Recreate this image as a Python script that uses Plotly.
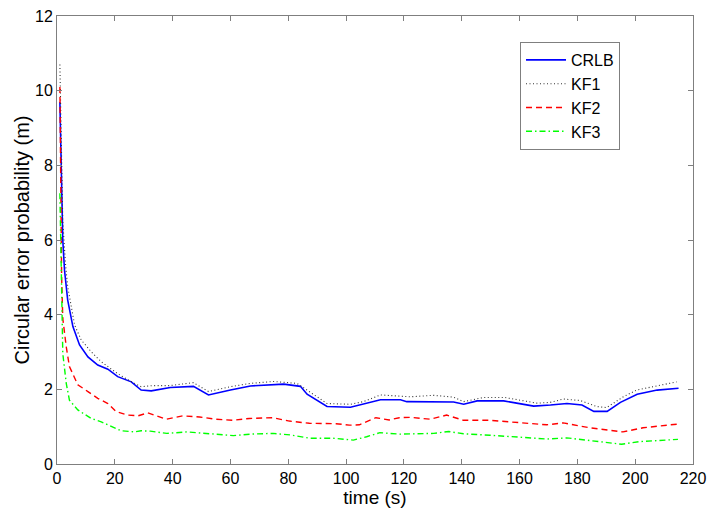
import plotly.graph_objects as go

# ---- data ----
t_crlb = [1, 1.5, 2, 2.6, 3.7, 5.5, 7.8, 10.7, 14.1, 17.6, 21, 25.7, 29.1, 32.6, 39.2, 47.2,
          52.4, 60, 66.9, 78.4, 84.2, 86.5, 93.4, 101.5, 106, 111.9, 118.8, 121, 137.2, 140.7,
          145.3, 154.5, 159, 164.9, 170.7, 176.4, 181.6, 185.7, 190.3, 194.9, 200.7, 207.6, 215]
crlb = [9.7, 7.9, 6.0, 5.19, 4.39, 3.68, 3.19, 2.87, 2.65, 2.54, 2.34, 2.20, 1.98, 1.96, 2.05, 2.08,
        1.85, 1.98, 2.09, 2.14, 2.08, 1.87, 1.54, 1.52, 1.60, 1.72, 1.72, 1.67, 1.66, 1.60,
        1.69, 1.69, 1.63, 1.55, 1.58, 1.62, 1.58, 1.41, 1.41, 1.65, 1.87, 1.98, 2.03]

t_kf1 = [1, 1.5, 2, 3, 3.7, 6.1, 8.4, 11.8, 15.3, 18.8, 22.2, 26.8, 29.1, 33.2, 39, 47.2, 52.4,
         60, 66.9, 75, 83, 86.5, 93.4, 101.5, 106, 111.9, 118.8, 122.2, 130.3, 137.2, 140.6,
         147.5, 155, 161.4, 166, 170.6, 175.2, 181, 186.7, 190.1, 195.9, 200.5, 207.4, 214.3]
kf1 = [10.7, 8.6, 6.5, 5.3, 4.75, 3.72, 3.32, 3.01, 2.74, 2.54, 2.36, 2.16, 2.07, 2.10, 2.10, 2.18, 1.94,
       2.07, 2.16, 2.21, 2.16, 1.98, 1.62, 1.60, 1.67, 1.85, 1.83, 1.80, 1.84, 1.79, 1.67,
       1.78, 1.78, 1.70, 1.63, 1.65, 1.74, 1.70, 1.54, 1.51, 1.80, 1.98, 2.10, 2.20]

t_kf2 = [1, 1.3, 1.6, 2, 3.2, 4.3, 7.2, 10.7, 14.1, 17.6, 20.5, 24.5, 28, 31.4, 37.8, 43.5, 49.3,
         55, 60.8, 66.5, 74.6, 80.4, 87.3, 96.5, 101.1, 104.6, 110.3, 114.9, 118.4, 122.2, 129.1,
         134.8, 140.6, 149.8, 159, 169.4, 175.1, 184.3, 195.8, 202.7, 214.8]
kf2 = [10.1, 7.5, 5.0, 3.9, 3.14, 2.61, 2.12, 1.94, 1.76, 1.62, 1.40, 1.31, 1.29, 1.37, 1.20, 1.29, 1.26,
       1.20, 1.17, 1.22, 1.24, 1.15, 1.09, 1.08, 1.04, 1.05, 1.24, 1.18, 1.24, 1.25, 1.20,
       1.31, 1.17, 1.17, 1.11, 1.05, 1.10, 0.97, 0.86, 0.97, 1.07]

t_kf3 = [1, 1.3, 1.6, 2, 3.2, 4.3, 7.2, 11.8, 15.3, 18.8, 22.2, 26.8, 29.1, 32.3, 38, 45, 51.9,
         61, 66.8, 74.8, 80.6, 87.5, 95.5, 102.5, 107.1, 111.7, 118.6, 122.2, 130.3, 135.5, 140.6,
         149.8, 159, 169.4, 176.3, 184.3, 195.3, 201.6, 214.8]
kf3 = [7.25, 6.0, 4.3, 2.96, 2.16, 1.71, 1.45, 1.22, 1.13, 1.00, 0.89, 0.86, 0.89, 0.88, 0.82, 0.86, 0.82,
       0.76, 0.80, 0.82, 0.78, 0.69, 0.69, 0.64, 0.73, 0.84, 0.80, 0.80, 0.82, 0.87, 0.81,
       0.77, 0.73, 0.67, 0.70, 0.62, 0.53, 0.60, 0.66]

x_ticks = [0, 20, 40, 60, 80, 100, 120, 140, 160, 180, 200, 220]
y_ticks = [0, 2, 4, 6, 8, 10, 12]

FONT = "Liberation Sans, Arial, sans-serif"

fig = go.Figure()
fig.add_trace(go.Scatter(x=t_crlb, y=crlb, mode="lines", name="CRLB",
                         line=dict(color="#0000ff", width=1.6)))
fig.add_trace(go.Scatter(x=t_kf1, y=kf1, mode="lines", name="KF1",
                         line=dict(color="#333333", width=1.1, dash="1px,2.5px")))
fig.add_trace(go.Scatter(x=t_kf2, y=kf2, mode="lines", name="KF2",
                         line=dict(color="#ff0000", width=1.4, dash="6px,4px")))
fig.add_trace(go.Scatter(x=t_kf3, y=kf3, mode="lines", name="KF3",
                         line=dict(color="#00ff00", width=1.4, dash="6px,3px,1.5px,3px")))

axis_common = dict(showgrid=False, zeroline=False, showline=True, linecolor="#7f7f7f",
                   linewidth=1, mirror="ticks", ticks="inside", ticklen=5, tickcolor="#7f7f7f",
                   automargin=False,
                   tickfont=dict(family=FONT, size=16, color="black"))

fig.update_xaxes(range=[0, 220], tickvals=x_ticks, ticktext=[str(v) for v in x_ticks],
                 title=dict(text="time (s)", font=dict(family=FONT, size=19, color="black"), standoff=0),
                 **axis_common)
fig.update_yaxes(range=[0, 12], tickvals=y_ticks, ticktext=[str(v) for v in y_ticks],
                 title=dict(text="Circular error probability (m)", font=dict(family=FONT, size=20, color="black"), standoff=0),
                 **axis_common)

fig.update_layout(
    width=708, height=508,
    margin=dict(l=57, r=15, t=16, b=44),
    paper_bgcolor="white", plot_bgcolor="white",
    font=dict(family=FONT, color="black"),
    legend=dict(x=0.728, y=0.942, xanchor="left", yanchor="top",
                bgcolor="white", bordercolor="#7f7f7f", borderwidth=1,
                font=dict(family=FONT, size=16, color="black"),
                tracegroupgap=0, itemwidth=40),
    showlegend=True,
)

fig.write_html("out.html",
               config={"displayModeBar": False},
               post_script="document.body.style.margin='0';document.body.style.overflow='hidden';")
